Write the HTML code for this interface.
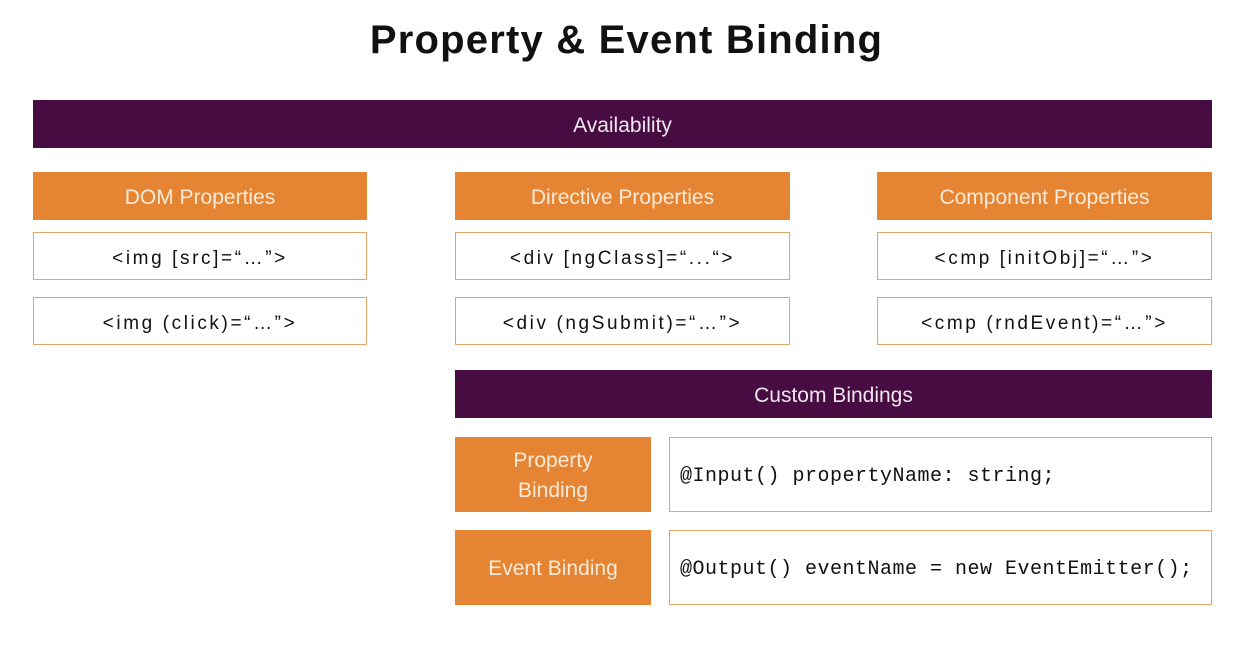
<!DOCTYPE html>
<html><head><meta charset="utf-8"><style>
body{margin:0;width:1253px;height:645px;background:#fff;position:relative;overflow:hidden;font-family:"Liberation Sans",sans-serif}
.a{position:absolute;box-sizing:border-box;display:flex;align-items:center;justify-content:center;text-align:center;padding-top:3px}
.p{background:#470c41;color:#f0e6ee;font-size:21px}
.o{background:#e58534;color:#fbead8;font-size:21px;line-height:30px}
.w{background:#fff;border:1px solid #e3a46a;color:#111;font-size:19px;letter-spacing:2.6px;padding-top:6px}
.m{justify-content:flex-start;padding-left:10px;font-family:"Liberation Mono",monospace;font-size:20px;letter-spacing:0.5px;padding-top:3px}
</style></head><body>
<div class="a" style="left:0;width:1253px;top:14px;height:50px;font-size:40px;font-weight:900;color:#111;letter-spacing:1.2px">Property &amp; Event Binding</div>
<div class="a p" style="left:33px;top:100px;width:1179px;height:48px">Availability</div>
<div class="a o" style="left:33px;top:172px;width:334px;height:48px">DOM Properties</div>
<div class="a o" style="left:455px;top:172px;width:335px;height:48px">Directive Properties</div>
<div class="a o" style="left:877px;top:172px;width:335px;height:48px">Component Properties</div>
<div class="a w" style="left:33px;top:232px;width:334px;height:48px">&lt;img [src]=“…”&gt;</div>
<div class="a w" style="left:33px;top:297px;width:334px;height:48px">&lt;img (click)=“…”&gt;</div>
<div class="a w" style="left:455px;top:232px;width:335px;height:48px">&lt;div [ngClass]=“...“&gt;</div>
<div class="a w" style="left:455px;top:297px;width:335px;height:48px">&lt;div (ngSubmit)=“…”&gt;</div>
<div class="a w" style="left:877px;top:232px;width:335px;height:48px">&lt;cmp [initObj]=“…”&gt;</div>
<div class="a w" style="left:877px;top:297px;width:335px;height:48px">&lt;cmp (rndEvent)=“…”&gt;</div>
<div class="a p" style="left:455px;top:370px;width:757px;height:48px">Custom Bindings</div>
<div class="a o" style="left:455px;top:437px;width:196px;height:75px">Property<br>Binding</div>
<div class="a w m" style="left:669px;top:437px;width:543px;height:75px">@Input() propertyName: string;</div>
<div class="a o" style="left:455px;top:530px;width:196px;height:75px">Event Binding</div>
<div class="a w m" style="left:669px;top:530px;width:543px;height:75px">@Output() eventName = new EventEmitter();</div>
</body></html>
